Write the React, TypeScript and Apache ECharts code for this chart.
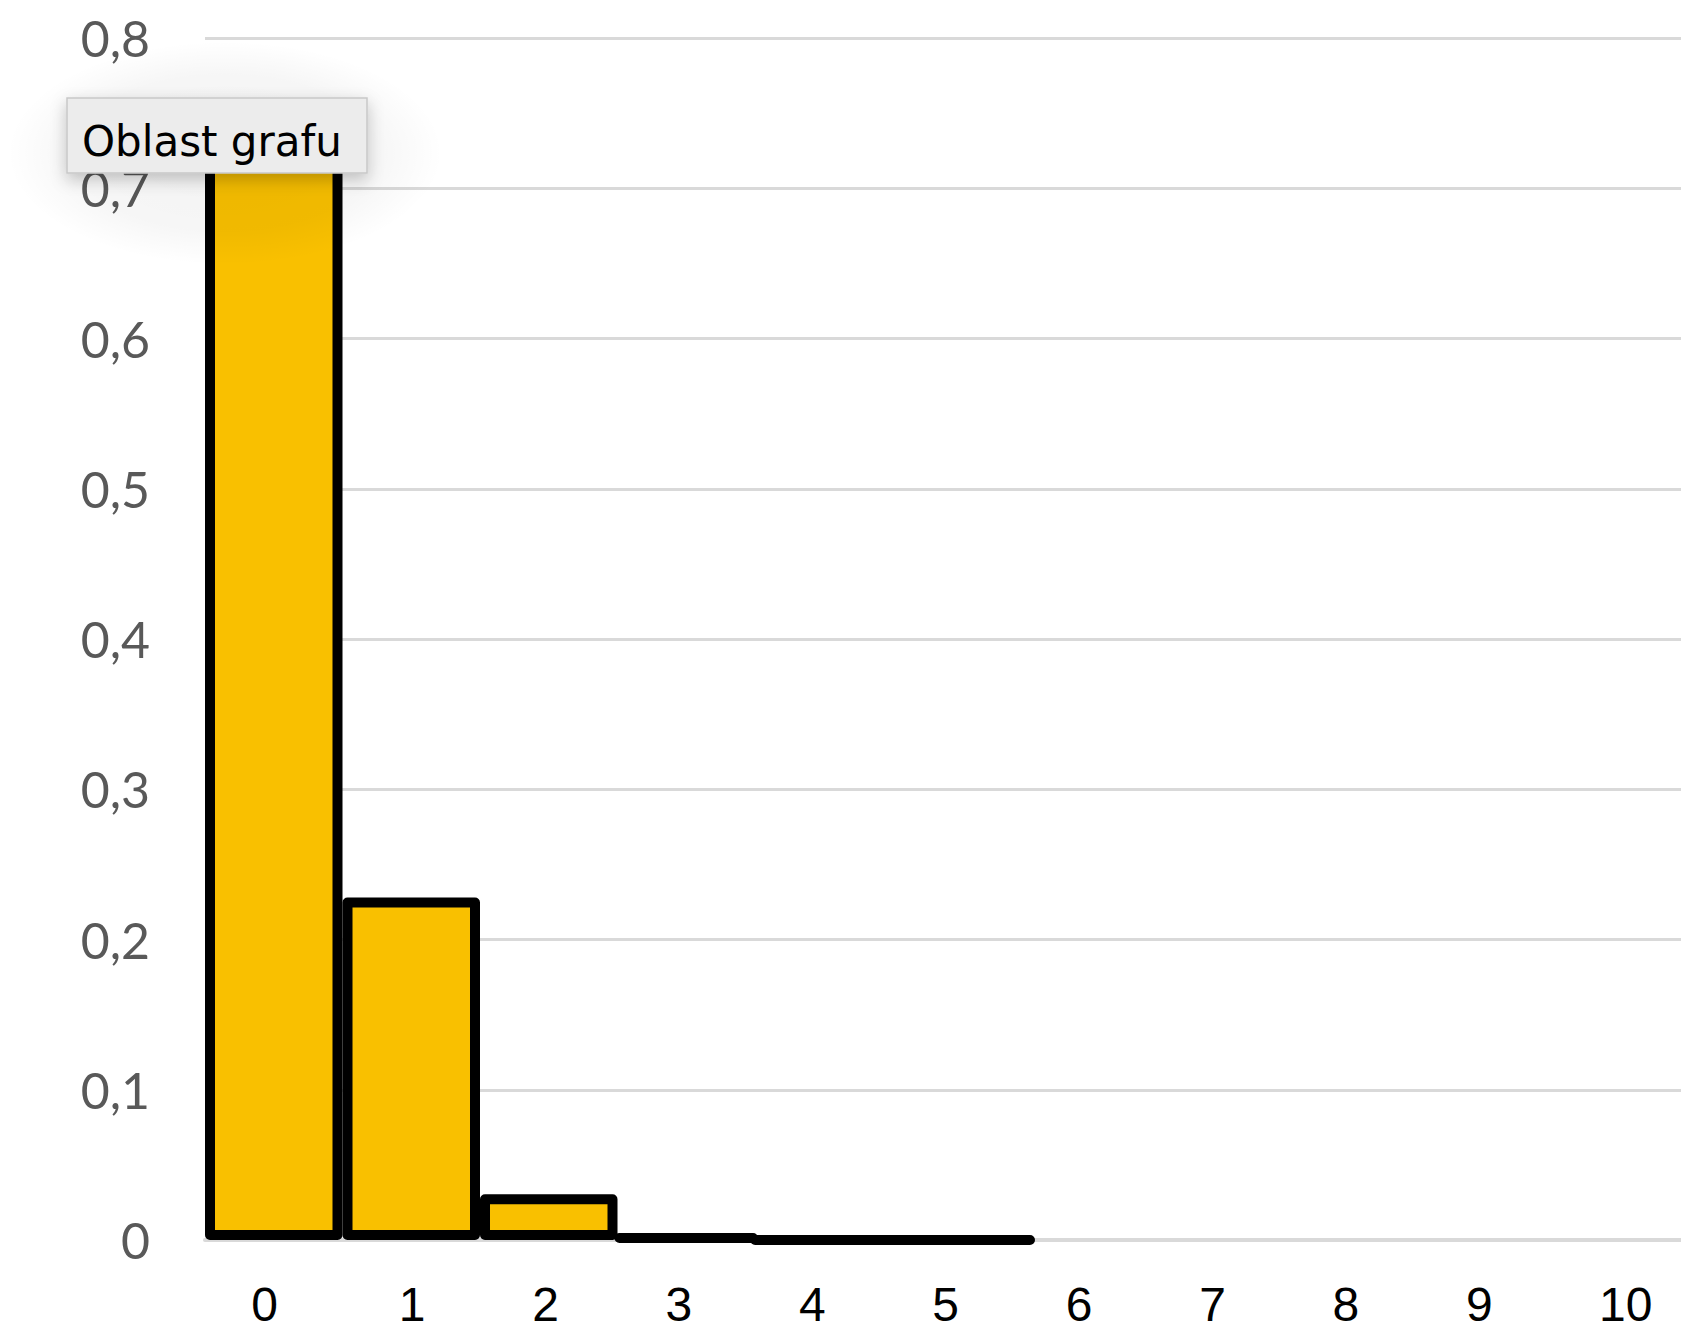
import React, { useEffect, useRef } from "react";
import * as echarts from "echarts";

const categories = ["0", "1", "2", "3", "4", "5", "6", "7", "8", "9", "10"];
const probabilities: (number | null)[] = [0.737, 0.228, 0.0305, 0.0026, 0.00014, 0.000005, null, null, null, null, null];
const yTickLabels = ["0", "0,1", "0,2", "0,3", "0,4", "0,5", "0,6", "0,7", "0,8"];
const tooltipText = "Oblast grafu";

export default function App() {
  const ref = useRef<HTMLDivElement>(null);

  useEffect(() => {
    if (!ref.current) return;
    const chart = echarts.init(ref.current, undefined, { renderer: "svg" });
    const labelFont = { fontFamily: "Liberation Sans", fontSize: 48, color: "#000000", lineHeight: 40 };
    const option: any = {
      animation: false,
      backgroundColor: "#ffffff",
      grid: [
        { left: 205, top: 38, width: 1512.5, height: 1202 },
        { left: 212, top: 38, width: 1467.4, height: 1202 },
      ],
      xAxis: [
        {
          type: "category",
          gridIndex: 0,
          data: categories,
          axisTick: { show: false },
          axisLabel: { show: false },
          axisLine: { show: true, lineStyle: { color: "#d9d9d9", width: 4 } },
        },
        {
          type: "category",
          gridIndex: 1,
          data: categories,
          axisTick: { show: false },
          axisLine: { show: false },
          axisLabel: {
            interval: 0,
            margin: 46,
            ...labelFont,
            formatter: (v: string) => {
              if (v === categories[0]) return "{l|" + v + "}";
              if (v === categories[categories.length - 1]) return "{r|" + v + "}";
              return "{n|" + v + "}";
            },
            rich: {
              n: { ...labelFont },
              l: { ...labelFont, padding: [0, 28, 0, 0] },
              r: { ...labelFont, padding: [0, 0, 0, 26] },
            },
          },
        },
      ],
      yAxis: [
        {
          type: "value",
          gridIndex: 0,
          min: 0,
          max: 0.8,
          interval: 0.1,
          axisLine: { show: false },
          axisTick: { show: false },
          axisLabel: {
            margin: 55,
            color: "#595959",
            fontFamily: "Lato",
            fontSize: 50,
            formatter: (v: number) => yTickLabels[Math.round(v * 10)] ?? "",
          },
          splitLine: { lineStyle: { color: "#d9d9d9", width: 3 } },
        },
        { type: "value", gridIndex: 1, min: 0, max: 0.8, show: false },
      ],
      series: [
        {
          type: "bar",
          xAxisIndex: 0,
          yAxisIndex: 0,
          data: probabilities,
          barCategoryGap: "0%",
          clip: true,
          itemStyle: {
            color: "#F9C000",
            borderColor: "#000000",
            borderWidth: 10,
            borderJoin: "round",
          },
        },
      ],
      graphic: [
        {
          type: "ellipse",
          z: 100,
          shape: { cx: 225, cy: 153, rx: 218, ry: 112 },
          style: {
            fill: new echarts.graphic.RadialGradient(0.5, 0.5, 0.5, [
              { offset: 0, color: "rgba(0,0,0,0.05)" },
              { offset: 0.7, color: "rgba(0,0,0,0.035)" },
              { offset: 1, color: "rgba(0,0,0,0)" },
            ]),
          },
        },
        {
          type: "rect",
          z: 101,
          shape: { x: 67, y: 98, width: 300, height: 75 },
          style: {
            fill: "#ececec",
            stroke: "#c8c8c8",
            lineWidth: 1.5,
            shadowBlur: 16,
            shadowOffsetY: 6,
            shadowColor: "rgba(0,0,0,0.22)",
          },
        },
        {
          type: "text",
          z: 102,
          x: 82,
          y: 141,
          style: {
            text: tooltipText,
            fontFamily: "DejaVu Sans",
            fontSize: 42,
            fill: "#000000",
            verticalAlign: "middle",
            align: "left",
          },
        },
      ],
    };
    chart.setOption(option);
    return () => chart.dispose();
  }, []);

  return (
    <div style={{ position: "absolute", left: 0, top: 0, width: 1681, height: 1328, overflow: "hidden", background: "#fff" }}>
      <div ref={ref} style={{ width: 1730, height: 1328 }} />
    </div>
  );
}
